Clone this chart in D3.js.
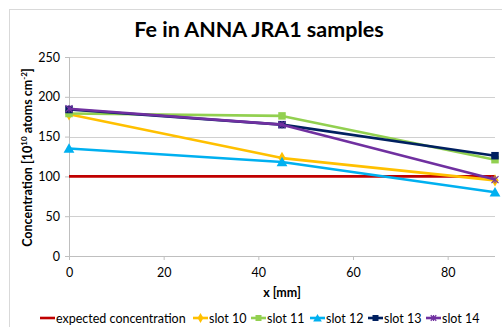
<!DOCTYPE html>
<html>
<head>
<meta charset="utf-8">
<script src="https://d3js.org/d3.v7.min.js"></script>
<style>
  html, body { margin: 0; padding: 0; background: #fff; }
  svg { display: block; font-family: Lato, "Open Sans", sans-serif; }
</style>
</head>
<body>
<svg id="chart" width="502" height="327"></svg>
<script>
// positions along the sample (mm)
const xPos = [0, 45, 90];

const expected = [100, 100, 100];
const slot10 = [178, 123, 95];
const slot11 = [179, 176, 121];
const slot12 = [135, 118, 80];
const slot13 = [184, 165, 126];
const slot14 = [185, 165, 96];

const yTicks = [0, 50, 100, 150, 200, 250];
const xTicks = [0, 20, 40, 60, 80];

const series = [
  { name: "expected concentration", values: expected, color: "#C00000", marker: null },
  { name: "slot 10", values: slot10, color: "#FFC000", marker: "diamond" },
  { name: "slot 11", values: slot11, color: "#92D050", marker: "square" },
  { name: "slot 12", values: slot12, color: "#00B0F0", marker: "triangle" },
  { name: "slot 13", values: slot13, color: "#002060", marker: "square" },
  { name: "slot 14", values: slot14, color: "#7030A0", marker: "star" },
];

const FS = 12.5;
const svg = d3.select("#chart");
const m = { top: 57, right: 7, bottom: 71, left: 69 };
const W = 502 - m.left - m.right;
const H = 327 - m.top - m.bottom;

// outer chart frame
svg.append("rect").attr("x", 9.5).attr("y", 9.5).attr("width", 520).attr("height", 340)
  .attr("fill", "none").attr("stroke", "#D9D9D9");

svg.append("text").attr("x", 259).attr("y", 37).attr("text-anchor", "middle")
  .attr("font-size", 21.5).attr("font-weight", "bold").attr("fill", "#000")
  .text("Fe in ANNA JRA1 samples");

const g = svg.append("g").attr("transform", `translate(${m.left},${m.top})`);
const x = d3.scaleLinear().domain([0, 90]).range([0, W]);
const y = d3.scaleLinear().domain([0, 250]).range([H, 0]);

// grid
g.append("g").selectAll("line").data(yTicks.filter(d => d > 0)).join("line")
  .attr("x1", 0).attr("x2", W)
  .attr("y1", d => Math.round(y(d)) + 0.5).attr("y2", d => Math.round(y(d)) + 0.5)
  .attr("stroke", "#D0D0D0").attr("stroke-width", 1);

const yAxis = g.append("g").call(d3.axisLeft(y).tickValues(yTicks).tickSize(4).tickPadding(5));
const xAxis = g.append("g").attr("transform", `translate(0,${H})`)
  .call(d3.axisBottom(x).tickValues(xTicks).tickSize(4).tickPadding(8));
[xAxis, yAxis].forEach(a => {
  a.selectAll("path, line").attr("stroke", "#BFBFBF");
  a.selectAll("text").attr("font-size", FS).attr("fill", "#000").attr("font-family", "Lato, sans-serif");
  a.select(".domain").attr("d", a === xAxis ? `M0,0.5H${W}` : `M0.5,0V${H}`);
});

// axis titles
svg.append("text").attr("x", m.left + W / 2).attr("y", 297).attr("text-anchor", "middle")
  .attr("font-size", FS).attr("font-weight", "bold").text("x [mm]");
const yt = svg.append("text").attr("transform", `translate(32,${m.top + H / 2 + 1}) rotate(-90)`)
  .attr("text-anchor", "middle").attr("font-size", FS).attr("font-weight", "bold");
yt.append("tspan").text("Concentration [10");
yt.append("tspan").attr("font-size", 8).attr("dy", -5).text("10");
yt.append("tspan").attr("dy", 5).text(" atoms cm");
yt.append("tspan").attr("font-size", 8).attr("dy", -5).text("-2");
yt.append("tspan").attr("dy", 5).text("]");

const line = d3.line().x((d, i) => x(xPos[i])).y(d => y(d));

function drawMarker(sel, type, color, cx, cy, s) {
  if (type === "square") {
    sel.append("rect").attr("x", cx - s / 2).attr("y", cy - s / 2).attr("width", s).attr("height", s).attr("fill", color);
  } else if (type === "diamond") {
    sel.append("path").attr("d", d3.symbol(d3.symbolDiamond, s * s * 0.8)()).attr("transform", `translate(${cx},${cy})`).attr("fill", color);
  } else if (type === "triangle") {
    sel.append("path").attr("d", d3.symbol(d3.symbolTriangle, s * s * 0.9)()).attr("transform", `translate(${cx},${cy + 1})`).attr("fill", color);
  } else if (type === "star") {
    sel.append("path").attr("d", d3.symbol(d3.symbolTimes, s * s * 0.6)()).attr("transform", `translate(${cx},${cy})`)
      .attr("fill", "none").attr("stroke", color).attr("stroke-width", 1.2);
    sel.append("path").attr("d", `M${cx},${cy - s / 2}V${cy + s / 2}`).attr("stroke", color).attr("stroke-width", 1.2);
  }
}

series.forEach(s => {
  g.append("path").datum(s.values).attr("d", line)
    .attr("fill", "none").attr("stroke", s.color).attr("stroke-width", 2.6).attr("stroke-linejoin", "round");
  if (s.marker) {
    const mg = g.append("g");
    s.values.forEach((v, i) => drawMarker(mg, s.marker, s.color, x(xPos[i]), y(v), 7.5));
  }
});

// legend
const legendX = [40, 193, 251, 310, 368, 426];
const lg = svg.append("g").attr("transform", "translate(0,318)");
series.forEach((s, i) => {
  const it = lg.append("g").attr("transform", `translate(${legendX[i]},0)`);
  it.append("line").attr("x1", 0).attr("x2", 15).attr("y1", 0).attr("y2", 0)
    .attr("stroke", s.color).attr("stroke-width", 2.6);
  if (s.marker) drawMarker(it, s.marker, s.color, 7.5, 0, 6);
  it.append("text").attr("x", 16).attr("y", 4.5).attr("font-size", FS).attr("fill", "#000").text(s.name);
});
</script>
</body>
</html>
